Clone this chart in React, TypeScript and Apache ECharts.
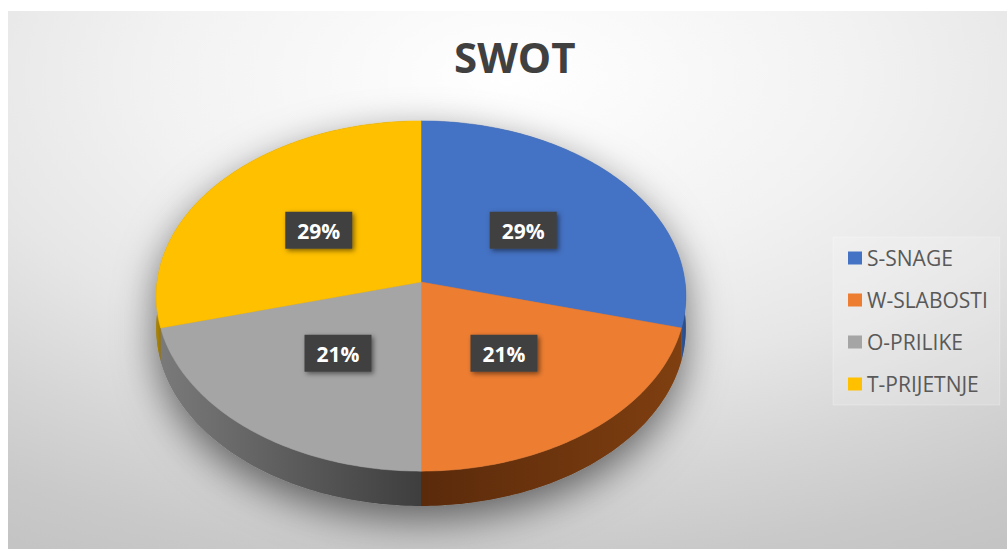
import React, { useEffect, useRef } from 'react';
import * as echarts from 'echarts';

const TITLE = 'SWOT';
const CATEGORIES = ['S-SNAGE', 'W-SLABOSTI', 'O-PRILIKE', 'T-PRIJETNJE'];
const VALUES = [7, 5, 5, 7];

const TOP_COLORS = ['#4472C4', '#ED7D31', '#A5A5A5', '#FFC000'];
const WALL_COLORS = [
  ['#2f5597', '#2a4c86'],
  ['#5a2a0b', '#7f3f10'],
  ['#7a7a7a', '#3e3e3e'],
  ['#b08700', '#9a7600'],
];

const CX = 413;
const CY = 271;
const RX = 264;
const RY = 174;
const K = 0.08;
const T = 32;
const LABEL_R = 0.5;

function proj(deg: number, r: number, down: number): number[] {
  const a = (deg * Math.PI) / 180;
  const X = r * Math.sin(a);
  const Z = r * Math.cos(a);
  const p = 1 / (1 + K * Z);
  return [CX + RX * X * p, CY - RY * Z * p + down * T * p];
}

function arc(from: number, to: number, r: number, down: number): number[][] {
  const n = Math.max(2, Math.ceil(Math.abs(to - from) / 1));
  const pts: number[][] = [];
  for (let i = 0; i <= n; i++) {
    pts.push(proj(from + ((to - from) * i) / n, r, down));
  }
  return pts;
}

export default function App() {
  const ref = useRef<HTMLDivElement>(null);

  useEffect(() => {
    if (!ref.current) return;
    const chart = echarts.init(ref.current, undefined, { renderer: 'svg' });
    const total = VALUES.reduce((s, v) => s + v, 0);
    const starts: number[] = [];
    let acc = 0;
    VALUES.forEach((v) => {
      starts.push(acc);
      acc += v;
    });

    const shadowSeries: any = {
      type: 'custom',
      name: '_shadow',
      coordinateSystem: 'none',
      silent: true,
      data: [[0, total]],
      renderItem: () => {
        const pts = arc(270, 450, 1, 0).concat(arc(90, 270, 1, 1));
        return {
          type: 'polygon',
          shape: { points: pts },
          style: {
            fill: '#777777',
            shadowBlur: 40,
            shadowColor: 'rgba(0,0,0,0.55)',
            shadowOffsetX: 0,
            shadowOffsetY: 14,
          },
        };
      },
    };

    const sliceSeries = CATEGORIES.map((name, i) => ({
      type: 'custom',
      name,
      coordinateSystem: 'none',
      silent: true,
      itemStyle: { color: TOP_COLORS[i] },
      data: [[starts[i], VALUES[i], total]],
      renderItem: (params: any, api: any) => {
        const start = api.value(0);
        const val = api.value(1);
        const tot = api.value(2);
        const a0 = (start / tot) * 360;
        const a1 = ((start + val) / tot) * 360;
        const children: any[] = [];
        const w0 = Math.max(a0, 90);
        const w1 = Math.min(a1, 270);
        if (w1 > w0) {
          const pts = arc(w0, w1, 1, 0).concat(arc(w1, w0, 1, 1));
          children.push({
            type: 'polygon',
            shape: { points: pts },
            style: {
              fill: new echarts.graphic.LinearGradient(0, 0, 1, 0, [
                { offset: 0, color: WALL_COLORS[i][0] },
                { offset: 1, color: WALL_COLORS[i][1] },
              ]),
            },
          });
        }
        const top = [proj(0, 0, 0)].concat(arc(a0, a1, 1, 0));
        children.push({
          type: 'polygon',
          shape: { points: top },
          style: { fill: TOP_COLORS[i], stroke: TOP_COLORS[i], lineWidth: 0.5 },
        });
        const mid = (a0 + a1) / 2;
        const [lx, ly] = proj(mid, LABEL_R, 0);
        children.push({
          type: 'rect',
          shape: { x: lx - 33.5, y: ly - 18.5, width: 67, height: 37 },
          style: {
            fill: '#404040',
            shadowBlur: 5,
            shadowOffsetX: 2,
            shadowOffsetY: 2,
            shadowColor: 'rgba(0,0,0,0.5)',
          },
        });
        children.push({
          type: 'text',
          style: {
            text: Math.round((val / tot) * 100) + '%',
            x: lx,
            y: ly + 1,
            fill: '#ffffff',
            font: 'bold 21px "Open Sans"',
            align: 'center',
            verticalAlign: 'middle',
          },
        });
        return { type: 'group', children };
      },
    }));

    chart.setOption({
      animation: false,
      backgroundColor: {
        type: 'radial',
        x: 0.5,
        y: 0.12,
        r: 1,
        colorStops: [
          { offset: 0, color: '#ffffff' },
          { offset: 0.35, color: '#f2f2f2' },
          { offset: 0.56, color: '#e6e6e6' },
          { offset: 0.75, color: '#d5d5d5' },
          { offset: 0.9, color: '#c9c9c9' },
          { offset: 1, color: '#c4c4c4' },
        ],
      },
      title: {
        text: TITLE,
        left: 446,
        top: 24,
        padding: 0,
        textStyle: {
          fontSize: 42,
          fontWeight: 'bold',
          color: '#404040',
          fontFamily: '"Open Sans"',
        },
      },
      legend: {
        data: CATEGORIES,
        orient: 'vertical',
        left: 825,
        top: 226,
        padding: [10, 12, 10, 15],
        itemWidth: 14,
        itemHeight: 13,
        itemGap: 20,
        icon: 'rect',
        selectedMode: false,
        backgroundColor: 'rgba(255,255,255,0.18)',
        borderColor: 'rgba(255,255,255,0.25)',
        borderWidth: 1,
        textStyle: {
          fontSize: 21,
          lineHeight: 22,
          color: '#595959',
          fontFamily: '"Open Sans"',
        },
      },
      series: [shadowSeries, ...sliceSeries],
    });

    return () => {
      chart.dispose();
    };
  }, []);

  return (
    <div
      ref={ref}
      style={{ position: 'absolute', left: 8, top: 11, width: 999, height: 538 }}
    />
  );
}
